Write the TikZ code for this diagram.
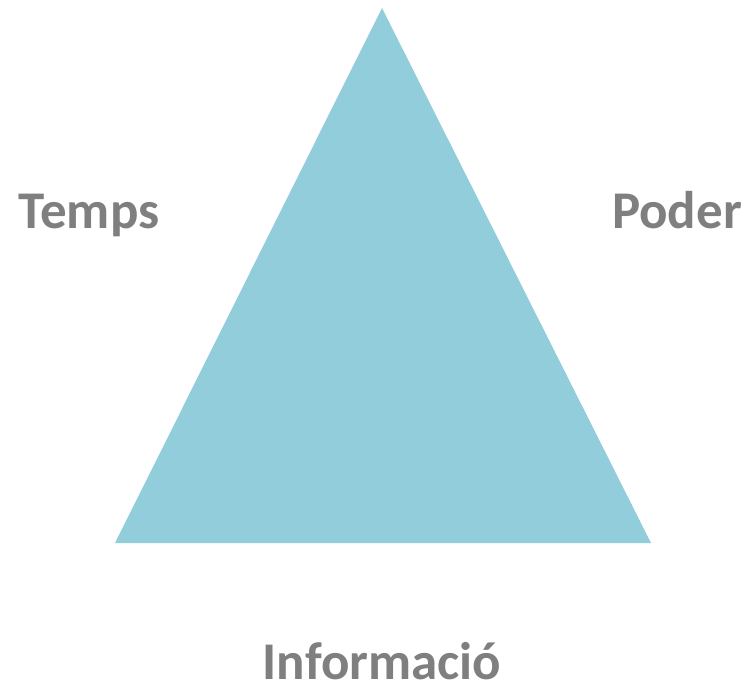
\documentclass[tikz,border=0pt]{standalone}
\usepackage{fontspec}
\setmainfont{Carlito}
\definecolor{triblue}{HTML}{92CDDC}
\definecolor{labgray}{HTML}{7F7F7F}
\begin{document}
\begin{tikzpicture}[x=1pt,y=1pt,
  lab/.style={text=labgray,font=\fontsize{53}{62}\selectfont\bfseries,inner sep=0pt,anchor=base}]
\useasboundingbox (0,0) rectangle (746,688);
\coordinate (top) at (382,680);
\coordinate (bl) at (115,145);
\coordinate (br) at (651,145);
\fill[triblue] (top) -- (bl) -- (br) -- cycle;
\node[lab] (temps) at (89,459) {Temps};
\node[lab] (poder) at (677,459) {Poder};
\node[lab] (info) at (382,9) {Informació};
\end{tikzpicture}
\end{document}
